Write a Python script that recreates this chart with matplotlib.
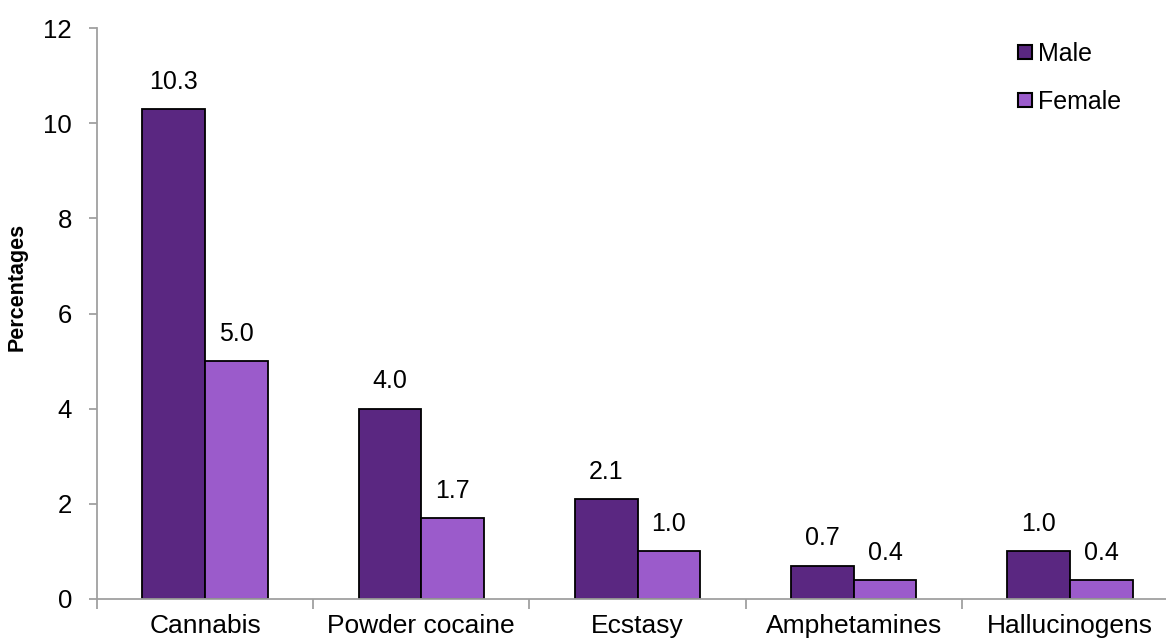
import matplotlib
matplotlib.use("Agg")
import matplotlib.pyplot as plt
from matplotlib.lines import Line2D
import numpy as np

plt.rcParams['font.family'] = ['Liberation Sans', 'DejaVu Sans']

categories = ["Cannabis", "Powder cocaine", "Ecstasy", "Amphetamines", "Hallucinogens"]
male = [10.3, 4.0, 2.1, 0.7, 1.0]
female = [5.0, 1.7, 1.0, 0.4, 0.4]
series_names = ["Male", "Female"]
y_ticks = [0, 2, 4, 6, 8, 10, 12]

male_color = "#5A2781"
female_color = "#9B5BCB"

W, H = 1166, 641
fig = plt.figure(figsize=(W / 100, H / 100), dpi=100)

# Axes placed in pixel terms: left spine at x=97, y=0 at 599, y=12 at 28
left, right = 97, 97 + 1081
bottom, top = 599, 28
ax = fig.add_axes([left / W, (H - bottom) / H, (right - left) / W, (bottom - top) / H])

x = np.arange(len(categories)) + 0.5
bw = 0.29
bars_m = ax.bar(x - bw / 2, male, bw, color=male_color, edgecolor="black", linewidth=1.3, zorder=3)
bars_f = ax.bar(x + bw / 2, female, bw, color=female_color, edgecolor="black", linewidth=1.3, zorder=3)

for bars, vals in ((bars_m, male), (bars_f, female)):
    for b, v in zip(bars, vals):
        ax.annotate(f"{v:.1f}", (b.get_x() + b.get_width() / 2, v), xytext=(0, 11),
                    textcoords="offset points", ha="center", va="bottom", fontsize=18)

ax.set_xlim(0, len(categories))
ax.set_ylim(0, 12)
ax.set_yticks(y_ticks)
ax.set_yticklabels([str(t) for t in y_ticks], fontsize=18.5)
ax.set_xticks(x)
ax.set_xticklabels(categories, fontsize=19)
ax.set_xticks(np.arange(0, len(categories) + 1), minor=True)

spine_color = "#A0A0A0"
for s in ("top", "right"):
    ax.spines[s].set_visible(False)
for s in ("left", "bottom"):
    ax.spines[s].set_color(spine_color)
    ax.spines[s].set_linewidth(1.3)
    ax.spines[s].set_zorder(4)

ax.tick_params(axis="y", direction="out", length=6, width=1.3, color=spine_color, pad=12)
ax.tick_params(axis="x", which="major", length=0, pad=11)
ax.tick_params(axis="x", which="minor", direction="out", length=7, width=1.3, color=spine_color)

fig.text(17 / W, 1 - 287 / H, "Percentages", rotation=90, ha="center", va="center",
         fontsize=15.5, fontweight="bold")

handles = [Line2D([], [], linestyle="none", marker="s", markersize=10,
                  markerfacecolor=c, markeredgecolor="black", markeredgewidth=1.5)
           for c in (male_color, female_color)]
ax.legend(handles, series_names, loc="upper left", bbox_to_anchor=(1017 / W, 1 - 42 / H),
          bbox_transform=fig.transFigure, frameon=False, fontsize=18,
          handlelength=0.6, handletextpad=0.25, labelspacing=0.95, borderpad=0, borderaxespad=0)

fig.savefig("out.png", dpi=100)
